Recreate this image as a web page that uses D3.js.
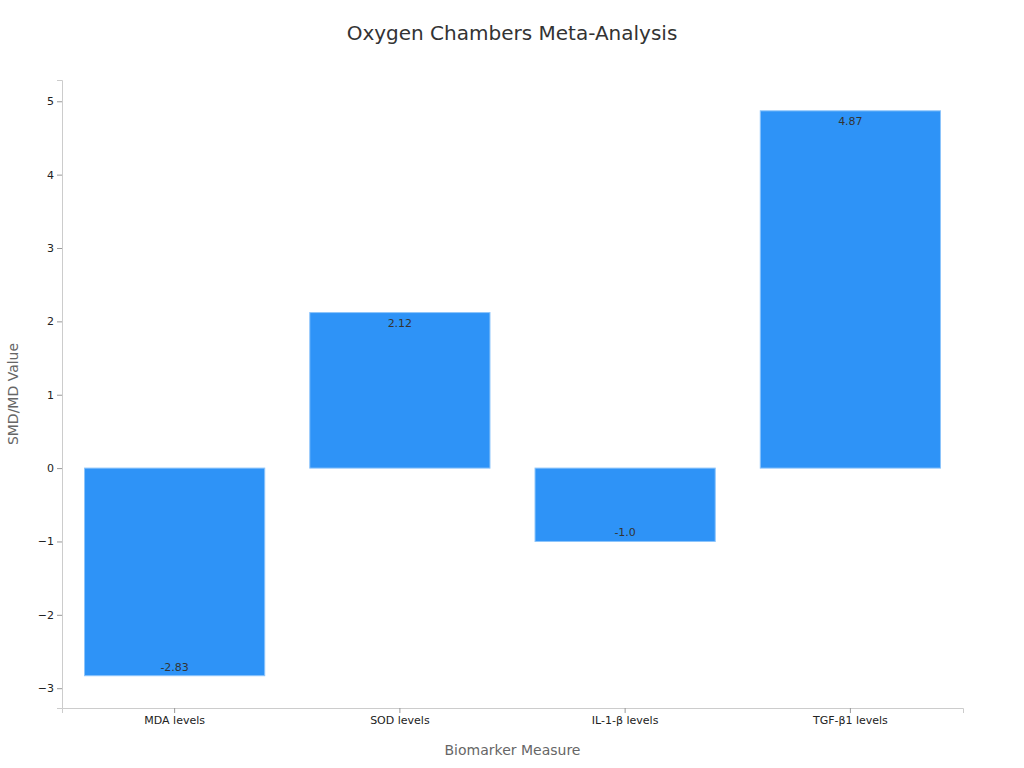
<!DOCTYPE html>
<html>
<head>
<meta charset="utf-8">
<script src="https://cdn.jsdelivr.net/npm/d3@7"></script>
<style>
  body { margin: 0; background: #fff; font-family: "DejaVu Sans", sans-serif; }
</style>
</head>
<body>
<script>
const categories = ['MDA levels', 'SOD levels', 'IL-1-β levels', 'TGF-β1 levels'];
const values = [-2.83, 2.12, -1.0, 4.87];
const valueLabels = ['-2.83', '2.12', '-1.0', '4.87'];
const yTicks = [-3, -2, -1, 0, 1, 2, 3, 4, 5];

const width = 1024, height = 768;
const margin = { top: 80, right: 61, bottom: 60, left: 62 };

const svg = d3.select('body').append('svg')
  .attr('width', width)
  .attr('height', height);

const x = d3.scaleBand()
  .domain(categories)
  .range([margin.left, width - margin.right])
  .paddingInner(0.2)
  .paddingOuter(0.1);

const y = d3.scaleLinear()
  .domain([-3.27, 5.29])
  .range([height - margin.bottom, margin.top]);

svg.append('text')
  .attr('x', width / 2).attr('y', 40)
  .attr('text-anchor', 'middle')
  .attr('font-size', 20).attr('fill', '#333')
  .text('Oxygen Chambers Meta-Analysis');

const yAxis = svg.append('g')
  .attr('transform', `translate(${margin.left},0)`)
  .call(d3.axisLeft(y).tickValues(yTicks).tickSize(5).tickFormat(d3.format('d')));
const xAxis = svg.append('g')
  .attr('transform', `translate(0,${height - margin.bottom})`)
  .call(d3.axisBottom(x).tickSize(5));

[xAxis, yAxis].forEach(a => {
  a.select('.domain').attr('stroke', '#ccc');
  a.selectAll('.tick line').attr('stroke', '#999');
  a.selectAll('.tick text').attr('fill', '#222').attr('font-size', 11)
    .attr('font-family', '"DejaVu Sans", sans-serif');
});
yAxis.selectAll('.tick text').text(d => d < 0 ? '\u2212' + Math.abs(d) : d);

svg.selectAll('rect.bar')
  .data(values)
  .enter().append('rect')
  .attr('class', 'bar')
  .attr('x', (d, i) => x(categories[i]))
  .attr('width', x.bandwidth())
  .attr('y', d => y(Math.max(0, d)))
  .attr('height', d => Math.abs(y(d) - y(0)))
  .attr('fill', '#2e93f7')
  .attr('stroke', '#8cc4fb')
  .attr('stroke-width', 1);

svg.selectAll('text.val')
  .data(values)
  .enter().append('text')
  .attr('class', 'val')
  .attr('x', (d, i) => x(categories[i]) + x.bandwidth() / 2)
  .attr('y', d => d >= 0 ? y(d) + 14 : y(d) - 5)
  .attr('text-anchor', 'middle')
  .attr('font-size', 11).attr('fill', '#333')
  .text((d, i) => valueLabels[i]);

svg.append('text')
  .attr('x', (margin.left + width - margin.right) / 2)
  .attr('y', 755)
  .attr('text-anchor', 'middle')
  .attr('font-size', 14).attr('fill', '#666')
  .text('Biomarker Measure');

svg.append('text')
  .attr('transform', `translate(18,${(margin.top + height - margin.bottom) / 2}) rotate(-90)`)
  .attr('text-anchor', 'middle')
  .attr('font-size', 14).attr('fill', '#666')
  .text('SMD/MD Value');
</script>
</body>
</html>
